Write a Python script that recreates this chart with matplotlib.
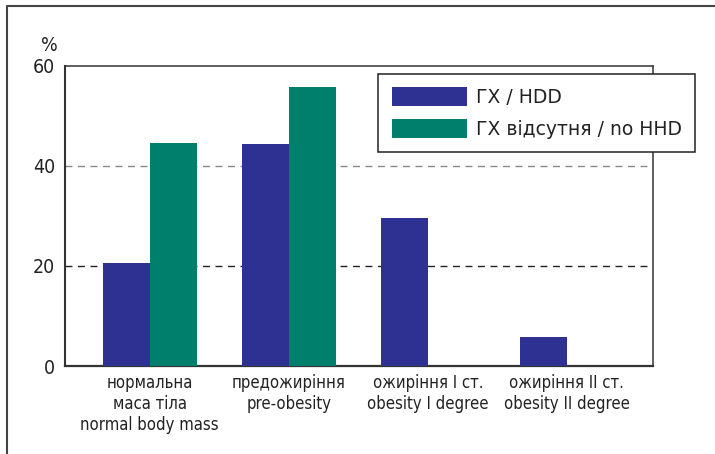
import matplotlib
matplotlib.use("Agg")
import matplotlib.pyplot as plt
import numpy as np
from matplotlib.lines import Line2D

plt.rcParams['font.family'] = ['DejaVu Sans']
plt.rcParams['font.stretch'] = 'condensed'

categories = ["нормальна\nмаса тіла\nnormal body mass",
              "предожиріння\npre-obesity",
              "ожиріння I ст.\nobesity I degree",
              "ожиріння II ст.\nobesity II degree"]
hdd = [20.6, 44.3, 29.5, 5.8]
no_hhd = [44.5, 55.8, 0, 0]
labels = ["ГХ / HDD", "ГХ відсутня / no HHD"]

blue = "#2e3192"
green = "#00806c"

fig = plt.figure(figsize=(7.15, 4.54), dpi=100)
ax = fig.add_axes([0.0909, 0.1938, 0.8224, 0.6615])

x = np.arange(len(categories))
w = 0.338
A = ax.bar(x - w / 2, hdd, width=w, color=blue, label=labels[0], zorder=3)
B = ax.bar(x + w / 2, no_hhd, width=w, color=green, label=labels[1], zorder=3)

ax.set_xlim(-0.61, 3.62)
ax.set_ylim(0, 60)
ax.set_yticks([0, 20, 40, 60])
ax.set_xticks(x)
ax.set_xticklabels(categories, fontsize=12, linespacing=1.2)
ax.tick_params(axis='both', length=0, colors='#222222')
ax.tick_params(axis='y', labelsize=14, pad=7)
ax.tick_params(axis='x', pad=6)

for s in ax.spines.values():
    s.set_color('#333333')
    s.set_linewidth(1.1)
ax.spines['left'].set_linewidth(1.5)
ax.spines['bottom'].set_linewidth(1.6)

ax.grid(axis='y', linestyle=(0, (5, 4)), linewidth=1.0, zorder=1)
gl = ax.get_ygridlines()
gl[0].set_visible(False)
gl[3].set_visible(False)
gl[1].set_color('#222222')
gl[2].set_color('#888888')

ax.text(-0.012, 1.035, "%", transform=ax.transAxes, ha='right', va='bottom',
        fontsize=14, color='#222222')

leg = fig.legend(handles=[A, B], labels=labels, loc='upper right',
                 bbox_to_anchor=(695 / 715, 1 - 74 / 454),
                 prop={'family': ['DejaVu Sans'], 'stretch': 'normal', 'size': 13.5},
                 frameon=True, fancybox=False, framealpha=1, edgecolor='#222222',
                 handlelength=4.0, handleheight=1.2, handletextpad=0.5,
                 borderpad=0.7, labelspacing=0.65, borderaxespad=0)
leg.get_frame().set_linewidth(1.1)
for t in leg.get_texts():
    t.set_color('#222222')

fig.add_artist(Line2D([7 / 715, 7 / 715, 1.0], [0, 1 - 6 / 454, 1 - 6 / 454],
                      transform=fig.transFigure, color='#444444', linewidth=1.5))

fig.savefig("out.png", dpi=100)
